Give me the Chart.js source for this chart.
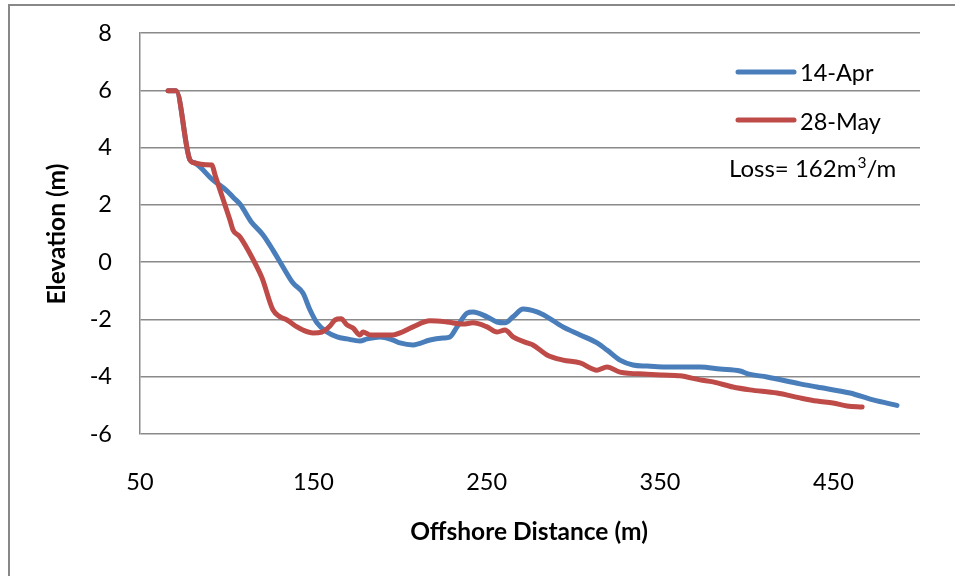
<!DOCTYPE html>
<html>
<head>
<meta charset="utf-8">
<script src="https://cdn.jsdelivr.net/npm/chart.js@4"></script>
<style>
  html, body { margin: 0; padding: 0; background: #fff; }
  #wrap { width: 955px; height: 576px; position: relative; }
</style>
</head>
<body>
<div id="wrap"><canvas id="c" width="955" height="576"></canvas></div>
<script>
// ---- data ----
const xTickValues = [50, 150, 250, 350, 450];
const yTickValues = [-6, -4, -2, 0, 2, 4, 6, 8];

const aprX = [66.2, 70.8, 78.8, 81.7, 92, 100, 104, 108, 114, 121, 126.7, 132.5, 138.3, 144, 148.1, 152.1, 157.9, 163.7, 169.4, 176.9, 181, 188.5, 196, 200, 207.5, 217.3, 224.8, 228.8, 232.9, 238.7, 242.1, 250.2, 256, 260.6, 265.2, 271, 279, 284.8, 294, 303.9, 313.7, 319.4, 326.9, 334.4, 342.5, 351.7, 361.5, 373.1, 384.6, 396.2, 400.8, 411.7, 430.8, 440.6, 459.6, 472.9, 486.7];
const aprY = [5.98, 5.98, 3.57, 3.46, 2.87, 2.5, 2.25, 2.0, 1.42, 0.95, 0.42, -0.17, -0.73, -1.08, -1.67, -2.12, -2.44, -2.61, -2.68, -2.75, -2.68, -2.61, -2.72, -2.82, -2.89, -2.72, -2.65, -2.61, -2.26, -1.78, -1.74, -1.91, -2.09, -2.12, -1.91, -1.64, -1.74, -1.91, -2.26, -2.54, -2.82, -3.07, -3.42, -3.59, -3.63, -3.66, -3.66, -3.66, -3.73, -3.8, -3.9, -4.01, -4.25, -4.36, -4.57, -4.81, -5.0];

const mayX = [66.2, 70.8, 78.8, 81.7, 88, 91.5, 93.3, 99, 101.9, 103.7, 107.7, 117.5, 120.4, 126.7, 130.8, 134.8, 140.6, 144, 149.8, 155, 159.6, 162.5, 166, 169.4, 172.9, 176.9, 178.7, 182.7, 188.5, 196, 200, 207.5, 217.3, 227.1, 236.3, 242.1, 250.2, 256, 260.6, 265.2, 273.3, 276.7, 284.8, 294, 303.9, 313.7, 319.4, 326.9, 342.5, 351.7, 361.5, 373.1, 380.6, 392.1, 401.9, 417.5, 430.8, 440.6, 449.8, 457.9, 466.6];
const mayY = [5.98, 5.98, 3.57, 3.46, 3.4, 3.39, 3.04, 2.0, 1.47, 1.12, 0.88, -0.17, -0.55, -1.67, -1.91, -2.02, -2.26, -2.37, -2.47, -2.44, -2.23, -2.02, -1.98, -2.19, -2.3, -2.54, -2.44, -2.54, -2.54, -2.54, -2.47, -2.26, -2.05, -2.09, -2.16, -2.12, -2.26, -2.44, -2.37, -2.61, -2.82, -2.89, -3.24, -3.42, -3.52, -3.77, -3.66, -3.84, -3.91, -3.94, -3.97, -4.11, -4.18, -4.36, -4.46, -4.57, -4.74, -4.85, -4.92, -5.02, -5.06];

const seriesNames = ['14-Apr', '28-May'];
const lossText = ['Loss= 162m', '3', '/m'];
const xTitle = 'Offshore Distance (m)';
const yTitle = 'Elevation (m)';

const BLUE = '#4A7EBB';
const RED = '#BE4B48';
const GRID = '#8a8a8a';
const FONT = 'Lato';

const toPts = (xs, ys) => xs.map((x, i) => ({ x: x, y: ys[i] }));

const overlay = {
  id: 'overlay',
  beforeDraw(chart) {
    const ctx = chart.ctx;
    ctx.save();
    ctx.fillStyle = '#fff';
    ctx.fillRect(0, 0, chart.width, chart.height);
    ctx.restore();
  },
  afterDraw(chart) {
    const ctx = chart.ctx;
    ctx.save();
    // outer frame
    ctx.strokeStyle = '#888';
    ctx.lineWidth = 2;
    ctx.strokeRect(9, 5, 960, 600);

    // axis titles
    ctx.fillStyle = '#000';
    ctx.font = 'bold 24.5px ' + FONT;
    ctx.textAlign = 'center';
    ctx.textBaseline = 'alphabetic';
    ctx.fillText(xTitle, 529, 540);
    ctx.save();
    ctx.translate(65, 234);
    ctx.rotate(-Math.PI / 2);
    ctx.fillText(yTitle, 0, 0);
    ctx.restore();

    // legend
    const items = [[BLUE, 72, 81], [RED, 120, 130]];
    ctx.lineCap = 'round';
    ctx.lineWidth = 5;
    ctx.font = '23.5px ' + FONT;
    ctx.textAlign = 'left';
    items.forEach((it, i) => {
      ctx.strokeStyle = it[0];
      ctx.beginPath();
      ctx.moveTo(738, it[1]);
      ctx.lineTo(794, it[1]);
      ctx.stroke();
      ctx.fillText(seriesNames[i], 800, it[2]);
    });

    // loss annotation
    let x = 729;
    ctx.font = '24px ' + FONT;
    ctx.fillText(lossText[0], x, 177);
    x += ctx.measureText(lossText[0]).width;
    ctx.font = '15.5px ' + FONT;
    ctx.fillText(lossText[1], x + 1, 168);
    x += ctx.measureText(lossText[1]).width + 1;
    ctx.font = '24px ' + FONT;
    ctx.fillText(lossText[2], x, 177);
    ctx.restore();
  }
};

new Chart(document.getElementById('c'), {
  type: 'line',
  data: {
    datasets: [
      {
        label: seriesNames[0],
        data: toPts(aprX, aprY),
        borderColor: BLUE,
        borderWidth: 5,
        pointRadius: 0,
        cubicInterpolationMode: 'monotone',
        borderCapStyle: 'round',
        borderJoinStyle: 'round',
        fill: false,
        order: 2
      },
      {
        label: seriesNames[1],
        data: toPts(mayX, mayY),
        borderColor: RED,
        borderWidth: 5,
        pointRadius: 0,
        cubicInterpolationMode: 'monotone',
        borderCapStyle: 'round',
        borderJoinStyle: 'round',
        fill: false,
        order: 1
      }
    ]
  },
  options: {
    responsive: false,
    animation: false,
    devicePixelRatio: 1,
    layout: { padding: { left: 0, top: 33, right: 35, bottom: 0 } },
    plugins: {
      legend: { display: false },
      tooltip: { enabled: false },
      title: { display: false }
    },
    scales: {
      x: {
        type: 'linear',
        min: 50,
        max: 500,
        afterBuildTicks(scale) { scale.ticks = xTickValues.map(v => ({ value: v })); },
        afterFit(scale) { scale.height = 142; scale.paddingLeft = 0; scale.paddingRight = 0; },
        grid: { display: false, drawTicks: false },
        border: { display: false },
        ticks: { color: '#000', font: { family: FONT, size: 23.5 }, padding: 34, maxRotation: 0 }
      },
      y: {
        type: 'linear',
        min: -6,
        max: 8,
        afterBuildTicks(scale) { scale.ticks = yTickValues.map(v => ({ value: v })); },
        afterFit(scale) { scale.width = 140; scale.paddingTop = 0; scale.paddingBottom = 0; },
        grid: { color: GRID, lineWidth: 1.5, drawTicks: false },
        border: { display: true, color: GRID, width: 1.5 },
        ticks: { color: '#000', font: { family: FONT, size: 23.5 }, padding: 28 }
      }
    }
  },
  plugins: [overlay]
});
</script>
</body>
</html>
